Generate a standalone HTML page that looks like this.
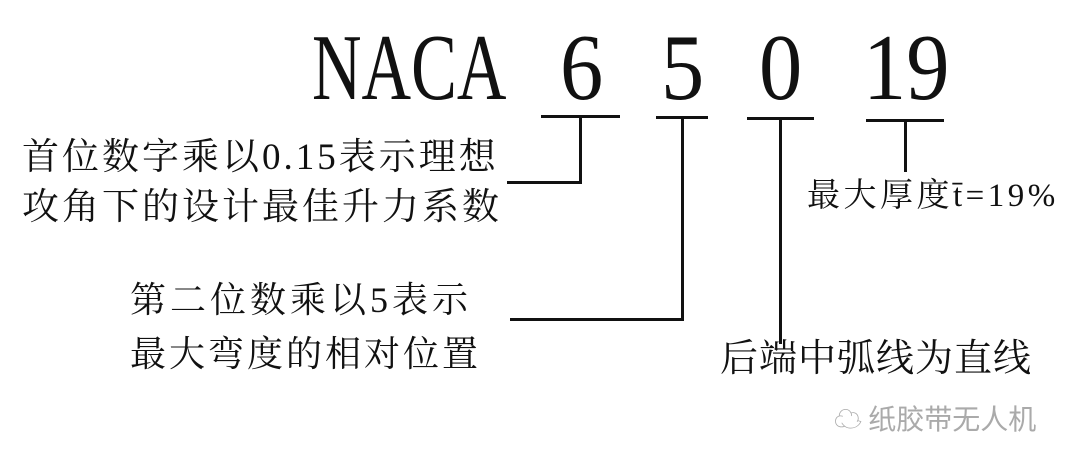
<!DOCTYPE html>
<html><head><meta charset="utf-8"><style>
body{margin:0;width:1080px;height:468px;background:#fff;position:relative;overflow:hidden;font-family:"Liberation Serif","Noto Serif CJK SC",serif;color:#111}
.b{position:absolute;font-family:"Liberation Serif",serif;font-size:94px;line-height:1;transform-origin:0 0;}
.l{position:absolute;background:#111}
.t{position:absolute;white-space:nowrap;line-height:1}
</style></head><body>
<div class="b" style="left:312px;top:21px;transform:scaleX(0.73)">NACA</div>
<div class="b" style="left:560px;top:21px;transform:scaleX(0.92)">6</div>
<div class="b" style="left:661px;top:21px;transform:scaleX(0.92)">5</div>
<div class="b" style="left:759px;top:21px;transform:scaleX(0.92)">0</div>
<div class="b" style="left:863px;top:21px;transform:scaleX(0.92)">19</div>

<div class="l" style="left:541px;top:115px;width:79px;height:3px"></div>
<div class="l" style="left:579px;top:116px;width:3px;height:68px"></div>
<div class="l" style="left:507px;top:181px;width:75px;height:3px"></div>

<div class="l" style="left:656px;top:116px;width:52px;height:3px"></div>
<div class="l" style="left:681px;top:117px;width:3px;height:204px"></div>
<div class="l" style="left:510px;top:318px;width:174px;height:3px"></div>

<div class="l" style="left:747px;top:117px;width:67px;height:3px"></div>
<div class="l" style="left:779px;top:118px;width:3px;height:226px"></div>

<div class="l" style="left:866px;top:119px;width:78px;height:3px"></div>
<div class="l" style="left:904px;top:120px;width:3px;height:52px"></div>

<div class="t" style="left:22px;top:139px;font-size:37px;letter-spacing:3px">首位数字乘以0.15表示理想</div>
<div class="t" style="left:22px;top:189px;font-size:37px;letter-spacing:3px">攻角下的设计最佳升力系数</div>
<div class="t" style="left:130px;top:282px;font-size:36px;letter-spacing:4px">第二位数乘以5表示</div>
<div class="t" style="left:130px;top:336px;font-size:36px;letter-spacing:3px">最大弯度的相对位置</div>
<div class="t" style="left:807px;top:180px;font-size:33px;letter-spacing:3.5px">最大厚度t̄=19%</div>
<div class="t" style="left:720px;top:340px;font-size:38px;letter-spacing:1px">后端中弧线为直线</div>
<div class="t" style="left:834px;top:404px;font-size:28px;color:#aaa;font-family:'Noto Sans CJK SC',sans-serif">☁ 纸胶带无人机</div>
</body></html>
